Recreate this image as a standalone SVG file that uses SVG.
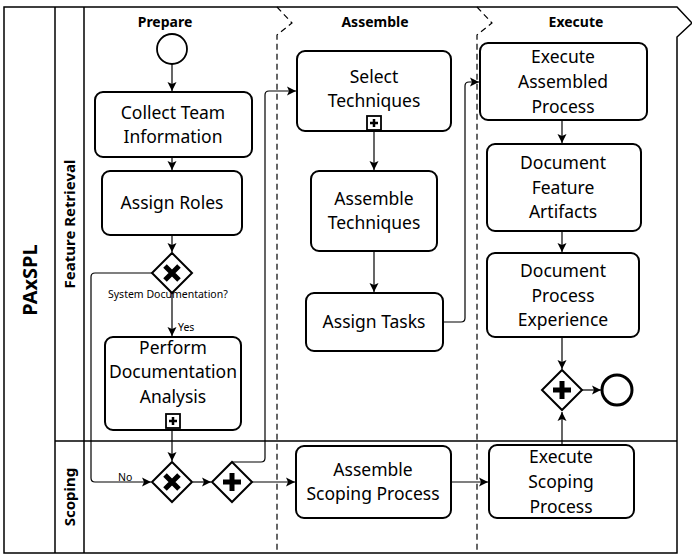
<svg xmlns="http://www.w3.org/2000/svg" width="692" height="560" viewBox="0 0 692 560">
<style>
.frame{fill:none;stroke:#000;stroke-width:1.5}
.div{fill:none;stroke:#000;stroke-width:1.2;stroke-dasharray:6,4}
.task{fill:#fff;stroke:#000;stroke-width:2}
.gw{fill:#fff;stroke:#000;stroke-width:2}
.mk{fill:none;stroke:#000;stroke-width:5}
.con{fill:none;stroke:#000;stroke-width:1.2;marker-end:url(#arr)}
.t{font-family:"Noto Sans","Open Sans",sans-serif;font-size:17.5px;fill:#000;text-anchor:middle}
.h{font-family:"Noto Sans","Open Sans",sans-serif;font-size:14px;font-weight:bold;fill:#000;text-anchor:middle}
.s{font-family:"Noto Sans","Open Sans",sans-serif;font-size:10.5px;fill:#000}
</style>
<defs>
<marker id="arr" markerWidth="10" markerHeight="10" refX="9" refY="5" orient="auto" markerUnits="userSpaceOnUse">
<path d="M0,0.5 L9,5 L0,9.5 L2,5 Z" fill="#000"/>
</marker>
<g id="plus"><rect x="-7" y="-7" width="14" height="14" fill="#fff" stroke="#000" stroke-width="1.8"/><path d="M-4,0H4M0,-4V4" stroke="#000" stroke-width="2.5"/></g>
</defs>
<rect width="692" height="560" fill="#fff"/>
<g id="pool">
<path class="frame" d="M4,7 H677 L692,23 L677,37 V553 H4 Z"/>
<line class="frame" x1="55" y1="7" x2="55" y2="553"/>
<line class="frame" x1="84" y1="7" x2="84" y2="553"/>
<line class="frame" x1="55" y1="441" x2="677" y2="441"/>
<text class="h" style="font-size:20px" transform="translate(37,280) rotate(-90)">PAxSPL</text>
<text class="h" style="font-size:15px" transform="translate(75,224) rotate(-90)">Feature Retrieval</text>
<text class="h" style="font-size:15px" transform="translate(75,497) rotate(-90)">Scoping</text>
<path class="div" d="M277,7 L292,23 L277,35 V553"/>
<path class="div" d="M477,7 L492,23 L477,35 V553"/>
<text class="h" x="165" y="27">Prepare</text>
<text class="h" x="375" y="27">Assemble</text>
<text class="h" x="576" y="27">Execute</text>
</g>
<g id="connectors">
<path class="con" d="M172,64 V91"/>
<path class="con" d="M172,157 V170"/>
<path class="con" d="M172,235 V252"/>
<path class="con" d="M172,293 V336"/>
<path class="con" d="M152,273 H95 Q91,273 91,277 V478 Q91,482 95,482 H151"/>
<path class="con" d="M172,428 V461"/>
<path class="con" d="M193,482 H211"/>
<path class="con" d="M232,462 H261 Q265,462 265,458 V95 Q265,91 269,91 H296"/>
<path class="con" d="M252,482 H295"/>
<path class="con" d="M374,130 V170"/>
<path class="con" d="M374,251 V292"/>
<path class="con" d="M443,322 H461 Q465,322 465,318 V86 Q465,82 469,82 H479"/>
<path class="con" d="M562,120 V143"/>
<path class="con" d="M562,231 V252"/>
<path class="con" d="M562,337 V369"/>
<path class="con" d="M582,390 H601"/>
<path class="con" d="M562,445 V412"/>
<path class="con" d="M451,482 H488"/>
<text class="s" x="108" y="298">System Documentation?</text>
<text class="s" x="178" y="331">Yes</text>
<text class="s" x="118" y="481">No</text>
</g>
<g id="start"><circle cx="172" cy="49" r="15" fill="#fff" stroke="#000" stroke-width="1.8"/></g>
<g id="collect"><rect class="task" x="95" y="92" width="157" height="65" rx="8"/>
<text class="t" x="173" y="119">Collect Team</text><text class="t" x="173" y="143">Information</text></g>
<g id="roles"><rect class="task" x="102" y="171" width="140" height="64" rx="8"/>
<text class="t" x="172" y="209">Assign Roles</text></g>
<g id="xor1"><path class="gw" d="M172,253 L192,273 L172,293 L152,273 Z"/><path class="mk" d="M165,266 L179,280 M179,266 L165,280"/></g>
<g id="perform"><rect class="task" x="105" y="337" width="136" height="93" rx="8"/>
<text class="t" x="173" y="354">Perform</text><text class="t" x="173" y="378">Documentation</text><text class="t" x="173" y="403">Analysis</text>
<use href="#plus" x="173" y="421"/></g>
<g id="xor2"><path class="gw" d="M172,462 L192,482 L172,502 L152,482 Z"/><path class="mk" d="M165,475 L179,489 M179,475 L165,489"/></g>
<g id="and1"><path class="gw" d="M232,462 L252,482 L232,502 L212,482 Z"/><path class="mk" d="M232,473 V491 M223,482 H241"/></g>
<g id="select"><rect class="task" x="297" y="51" width="154" height="80" rx="8"/>
<text class="t" x="374" y="83">Select</text><text class="t" x="374" y="107">Techniques</text>
<use href="#plus" x="374" y="123"/></g>
<g id="asmtech"><rect class="task" x="311" y="171" width="126" height="80" rx="8"/>
<text class="t" x="374" y="205">Assemble</text><text class="t" x="374" y="229">Techniques</text></g>
<g id="tasks"><rect class="task" x="306" y="293" width="137" height="58" rx="8"/>
<text class="t" x="374" y="328">Assign Tasks</text></g>
<g id="asmscope"><rect class="task" x="296" y="446" width="155" height="72" rx="8"/>
<text class="t" x="373" y="476">Assemble</text><text class="t" x="373" y="500">Scoping Process</text></g>
<g id="execasm"><rect class="task" x="480" y="43" width="167" height="77" rx="8"/>
<text class="t" x="563" y="63">Execute</text><text class="t" x="563" y="88">Assembled</text><text class="t" x="563" y="113">Process</text></g>
<g id="docfeat"><rect class="task" x="487" y="144" width="154" height="87" rx="8"/>
<text class="t" x="563" y="169">Document</text><text class="t" x="563" y="194">Feature</text><text class="t" x="563" y="218">Artifacts</text></g>
<g id="docproc"><rect class="task" x="487" y="253" width="152" height="84" rx="8"/>
<text class="t" x="563" y="277">Document</text><text class="t" x="563" y="302">Process</text><text class="t" x="563" y="326">Experience</text></g>
<g id="and2"><path class="gw" d="M562,370 L582,390 L562,410 L542,390 Z"/><path class="mk" d="M562,381 V399 M553,390 H571"/></g>
<g id="end"><circle cx="617" cy="390" r="15" fill="#fff" stroke="#000" stroke-width="3"/></g>
<g id="execscope"><rect class="task" x="489" y="445" width="145" height="73" rx="8"/>
<text class="t" x="561" y="463">Execute</text><text class="t" x="561" y="488">Scoping</text><text class="t" x="561" y="513">Process</text></g>
</svg>
